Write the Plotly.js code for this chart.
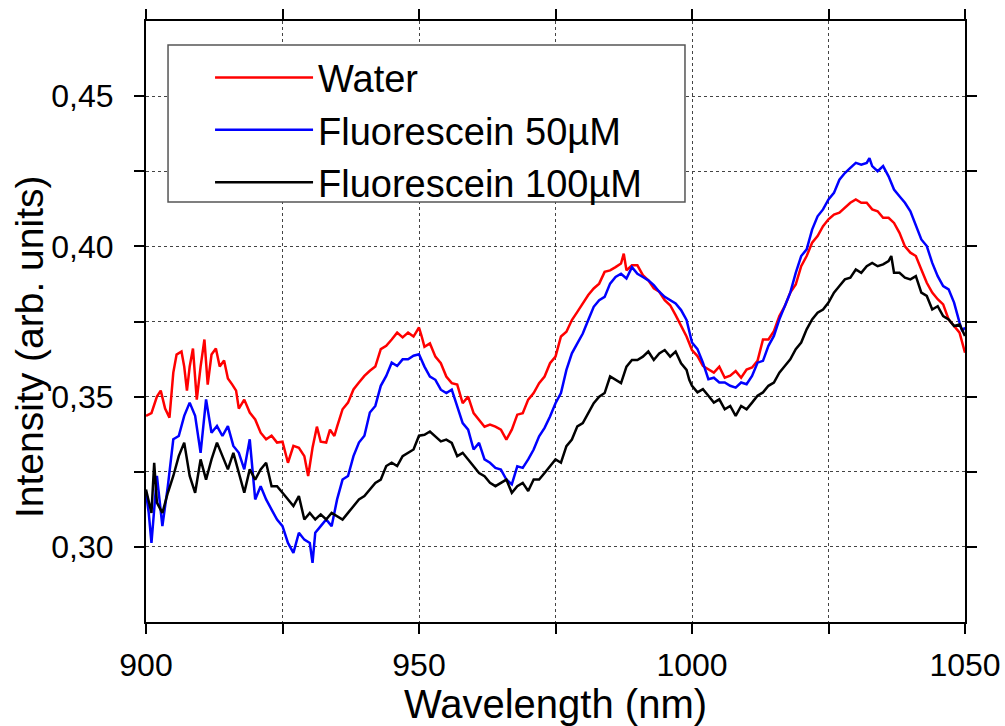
<!DOCTYPE html>
<html>
<head>
<meta charset="utf-8">
<script src="https://cdn.plot.ly/plotly-3.0.1.min.js"></script>
<style>html,body{margin:0;padding:0;background:#fff;}#chart{width:1005px;height:726px;}</style>
</head>
<body>
<div id="chart"></div>
<script>
// Series names
const seriesNames = ["Water", "Fluorescein 50\u00b5M", "Fluorescein 100\u00b5M"];

// Water (red)
const wlWater = [900,901,902,902.7,903.5,904.3,905,905.6,906.5,907,907.5,908,908.6,909.3,910,910.7,911.3,912,912.8,913.5,914.3,915,915.8,916.5,917,918,919,920,921,922,923,924,925,926,927,928,929,929.7,930.5,931.3,932,933,933.7,934.5,935,936,937,938,939,940,941,942,943,944,945,946,947,948,949,950,950.5,951,952,953,954,955,956,957,958,959,960,961,962,963,964,965,966,967,968,969,970,971,972,973,974,975,976,977,978,979,980,981,982,983,984,985,986,987,987.5,988,989,990,991,992,993,994,995,996,997,998,999,1000,1001,1002,1003,1004,1005,1006,1007,1008,1009,1010,1011,1012,1013,1014,1015,1016,1017,1018,1019,1020,1021,1022,1023,1024,1025,1026,1027,1028,1029,1030,1031,1032,1033,1034,1035,1036,1037,1038,1039,1040,1041,1042,1043,1044,1045,1046,1047,1048,1049,1050];
const intWater = [0.3436,0.3445,0.3500,0.3520,0.3460,0.3430,0.3580,0.3640,0.3650,0.3600,0.3520,0.3600,0.3660,0.3490,0.3600,0.3690,0.3540,0.3640,0.3660,0.3600,0.3620,0.3560,0.3540,0.3520,0.3460,0.3490,0.3447,0.3424,0.3380,0.3358,0.3370,0.3347,0.3350,0.3280,0.3336,0.3330,0.3302,0.3236,0.3330,0.3400,0.3350,0.3347,0.3390,0.3369,0.3400,0.3458,0.3480,0.3524,0.3547,0.3569,0.3586,0.3600,0.3658,0.3669,0.3690,0.3713,0.3697,0.3713,0.3700,0.3730,0.3700,0.3666,0.3677,0.3633,0.3611,0.3567,0.3545,0.3540,0.3478,0.3500,0.3445,0.3423,0.3400,0.3407,0.3400,0.3390,0.3357,0.3390,0.3440,0.3445,0.3490,0.3512,0.3545,0.3567,0.3611,0.3633,0.3700,0.3716,0.3755,0.3782,0.3810,0.3838,0.3860,0.3876,0.3915,0.3920,0.3931,0.3943,0.3976,0.3920,0.3937,0.3937,0.3904,0.3887,0.3860,0.3849,0.3821,0.3804,0.3771,0.3733,0.3700,0.3655,0.3635,0.3602,0.3590,0.3580,0.3600,0.3563,0.3570,0.3585,0.3563,0.3590,0.3597,0.3619,0.3690,0.3690,0.3718,0.3768,0.3801,0.3846,0.3873,0.3934,0.3968,0.4012,0.4034,0.4067,0.4090,0.4106,0.4112,0.4128,0.4145,0.4156,0.4145,0.4145,0.4123,0.4117,0.4095,0.4095,0.4078,0.4045,0.4000,0.3979,0.3968,0.3923,0.3879,0.3846,0.3824,0.3807,0.3757,0.3735,0.3713,0.3646];

// Fluorescein 50 uM (blue)
const wlF50 = [900,900.5,901,902,903,904,905,906,907,908,909,910,911,912,913,914,915,916,917,918,919,920,921,922,923,924,925,926,927,928,929,930,930.5,931,932,933,934,935,936,937,938,939,940,941,942,943,944,945,946,947,948,949,950,951,952,953,954,955,956,957,958,959,960,961,962,963,964,965,966,967,968,969,970,971,972,973,974,975,976,977,978,979,980,981,982,983,984,985,986,987,988,989,990,991,992,993,994,995,996,997,998,999,1000,1001,1002,1003,1004,1005,1006,1007,1008,1009,1010,1011,1012,1013,1014,1015,1016,1017,1018,1019,1020,1021,1022,1023,1024,1025,1026,1027,1028,1029,1030,1031,1032,1032.5,1033,1034,1035,1036,1037,1038,1039,1040,1041,1042,1043,1044,1045,1046,1047,1048,1049,1049.5,1050];
const intF50 = [0.3180,0.3113,0.3013,0.3236,0.3069,0.3202,0.3358,0.3369,0.3436,0.3480,0.3436,0.3313,0.3491,0.3380,0.3402,0.3369,0.3402,0.3336,0.3313,0.3258,0.3358,0.3158,0.3202,0.3158,0.3124,0.3091,0.3069,0.3013,0.2980,0.3047,0.3024,0.3013,0.2947,0.3047,0.3069,0.3091,0.3069,0.3158,0.3224,0.3236,0.3302,0.3347,0.3370,0.3447,0.3469,0.3536,0.3569,0.3613,0.3602,0.3624,0.3624,0.3636,0.3641,0.3600,0.3567,0.3556,0.3523,0.3512,0.3523,0.3467,0.3412,0.3390,0.3324,0.3346,0.3291,0.3280,0.3263,0.3257,0.3224,0.3208,0.3268,0.3263,0.3291,0.3324,0.3368,0.3396,0.3434,0.3478,0.3512,0.3589,0.3644,0.3677,0.3710,0.3755,0.3799,0.3821,0.3832,0.3876,0.3898,0.3909,0.3893,0.3931,0.3909,0.3898,0.3887,0.3871,0.3849,0.3832,0.3821,0.3810,0.3788,0.3755,0.3680,0.3658,0.3613,0.3558,0.3563,0.3547,0.3547,0.3536,0.3530,0.3547,0.3541,0.3569,0.3613,0.3619,0.3669,0.3702,0.3757,0.3801,0.3846,0.3912,0.3968,0.3990,0.4056,0.4100,0.4123,0.4156,0.4178,0.4222,0.4244,0.4261,0.4278,0.4272,0.4278,0.4294,0.4267,0.4250,0.4267,0.4233,0.4189,0.4167,0.4145,0.4117,0.4067,0.4023,0.4001,0.3945,0.3901,0.3868,0.3857,0.3813,0.3746,0.3718,0.3730];

// Fluorescein 100 uM (black)
const wlF100 = [900,901,901.5,902,903,904,905,906,907,908,909,910,911,912,913,914,915,916,917,918,919,920,921,922,923,924,925,926,927,928,929,930,931,932,933,934,935,936,937,938,939,940,941,942,943,944,945,946,947,948,949,950,951,952,953,954,955,956,957,958,959,960,961,962,963,964,965,966,967,968,969,970,971,972,973,974,975,976,977,978,979,980,981,982,983,984,985,986,987,988,989,990,991,992,993,994,995,996,997,998,999,999.5,1000,1001,1002,1003,1004,1005,1006,1007,1008,1009,1010,1011,1012,1013,1014,1015,1016,1017,1018,1019,1020,1021,1022,1023,1024,1025,1026,1027,1028,1029,1030,1031,1032,1033,1034,1035,1036,1036.5,1037,1038,1039,1040,1041,1042,1043,1044,1045,1046,1047,1048,1049,1050];
const intF100 = [0.3191,0.3113,0.3280,0.3147,0.3113,0.3180,0.3236,0.3302,0.3347,0.3236,0.3180,0.3291,0.3224,0.3291,0.3347,0.3302,0.3258,0.3313,0.3247,0.3180,0.3258,0.3224,0.3258,0.3280,0.3202,0.3202,0.3180,0.3158,0.3136,0.3169,0.3091,0.3113,0.3091,0.3108,0.3091,0.3113,0.3102,0.3091,0.3113,0.3136,0.3158,0.3169,0.3191,0.3213,0.3224,0.3269,0.3280,0.3269,0.3302,0.3313,0.3324,0.3370,0.3373,0.3384,0.3368,0.3351,0.3357,0.3346,0.3302,0.3313,0.3291,0.3268,0.3246,0.3235,0.3213,0.3202,0.3213,0.3224,0.3180,0.3202,0.3213,0.3186,0.3224,0.3224,0.3246,0.3268,0.3291,0.3280,0.3335,0.3357,0.3401,0.3412,0.3445,0.3478,0.3500,0.3512,0.3567,0.3556,0.3545,0.3600,0.3622,0.3622,0.3633,0.3650,0.3622,0.3644,0.3655,0.3633,0.3650,0.3611,0.3589,0.3556,0.3536,0.3514,0.3525,0.3503,0.3480,0.3491,0.3458,0.3469,0.3436,0.3469,0.3458,0.3480,0.3503,0.3514,0.3536,0.3547,0.3580,0.3602,0.3624,0.3658,0.3680,0.3724,0.3757,0.3779,0.3790,0.3813,0.3846,0.3868,0.3890,0.3896,0.3923,0.3912,0.3934,0.3945,0.3934,0.3940,0.3951,0.3968,0.3912,0.3912,0.3896,0.3890,0.3901,0.3846,0.3835,0.3790,0.3801,0.3768,0.3757,0.3735,0.3740,0.3702];

// Axis ticks
const xTickVals = [900,925,950,975,1000,1025,1050];
const xTickText = ["900","","950","","1000","","1050"];
const yTickVals = [0.30,0.325,0.35,0.375,0.40,0.425,0.45];
const yTickText = ["0,30","","0,35","","0,40","","0,45"];

const FONT = "Liberation Sans, Arial, sans-serif";
const colors = ["#ff0000", "#0000ff", "#000000"];
const xs = [wlWater, wlF50, wlF100];
const ys = [intWater, intF50, intF100];

const traces = seriesNames.map((n, i) => ({
  type: "scatter", mode: "lines", name: n,
  x: xs[i], y: ys[i],
  line: {color: colors[i], width: 2.5}
}));

const axisCommon = {
  showline: true, linecolor: "#000", linewidth: 2, mirror: "ticks",
  ticks: "outside", ticklen: 10, tickwidth: 2, tickcolor: "#000",
  showgrid: true, gridcolor: "#444", gridwidth: 1, griddash: "3px,3px",
  zeroline: false, tickfont: {family: FONT, size: 32, color: "#000"},
  tickmode: "array"
};

const layout = {
  width: 1005, height: 726,
  margin: {l: 146, r: 40, t: 21, b: 104, pad: 0},
  paper_bgcolor: "#fff", plot_bgcolor: "#fff",
  separators: ", ",
  showlegend: true,
  font: {family: FONT, color: "#000"},
  xaxis: Object.assign({}, axisCommon, {
    range: [900, 1050], tickvals: xTickVals, ticktext: xTickText,
    ticklabelstandoff: 4,
    title: {text: "Wavelength (nm)", font: {family: FONT, size: 40, color: "#000"}, standoff: 6}
  }),
  yaxis: Object.assign({}, axisCommon, {
    range: [0.275, 0.475], tickvals: yTickVals, ticktext: yTickText,
    ticklabelstandoff: 14,
    title: {text: ""}
  }),
  annotations: [{
    text: "Intensity (arb. units)", textangle: -90,
    xref: "paper", yref: "paper", x: -0.1416, y: 0.4576,
    xanchor: "center", yanchor: "middle", showarrow: false,
    font: {family: FONT, size: 39, color: "#000"}
  }],
  shapes: [{
    type: "rect", xref: "paper", yref: "paper",
    x0: 0.0269, x1: 0.6581, y0: 0.6988, y1: 0.9601,
    fillcolor: "#fff", line: {color: "#555", width: 1.5}, layer: "above"
  }],
  legend: {
    x: 0.0782, y: 0.958, xanchor: "left", yanchor: "top",
    bgcolor: "rgba(0,0,0,0)", borderwidth: 0,
    font: {family: FONT, size: 38, color: "#000"},
    itemwidth: 98
  }
};

Plotly.newPlot("chart", traces, layout, {displayModeBar: false, staticPlot: true});
</script>
</body>
</html>
